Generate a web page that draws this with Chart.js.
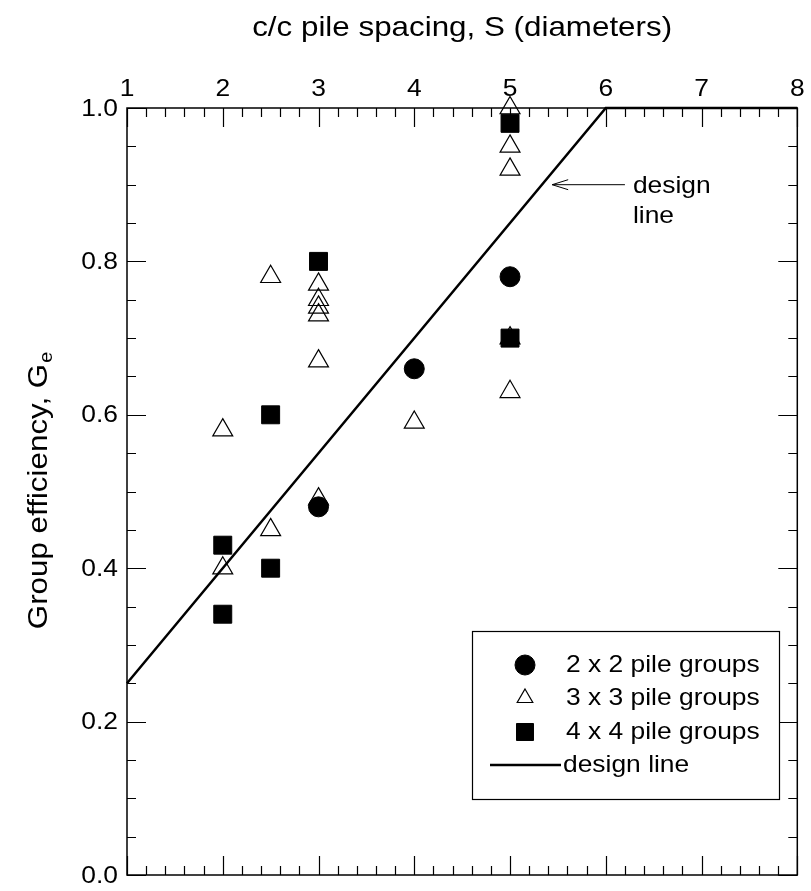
<!DOCTYPE html>
<html>
<head>
<meta charset="utf-8">
<script src="https://cdn.jsdelivr.net/npm/chart.js@4.4.1/dist/chart.umd.min.js"></script>
<style>
  html, body { margin: 0; padding: 0; background: #fff; }
  #wrap { width: 811px; height: 891px; }
</style>
</head>
<body>
<div id="wrap"><canvas id="chart" width="811" height="891"></canvas></div>
<script>
// axis ticks and labels
const xTickLabels = ['1', '2', '3', '4', '5', '6', '7', '8'];
const yTickLabels = ['0.0', '0.2', '0.4', '0.6', '0.8', '1.0'];

// measured group efficiencies
const pile2x2X = [3, 4, 5];
const pile2x2Y = [0.48, 0.66, 0.78];
const pile3x3X = [2, 2, 2.5, 2.5, 3, 3, 3, 3, 3, 3, 4, 5, 5, 5, 5, 5];
const pile3x3Y = [0.58, 0.40, 0.78, 0.45, 0.77, 0.75, 0.74, 0.73, 0.67, 0.49, 0.59, 1.00, 0.95, 0.92, 0.70, 0.63];
const pile4x4X = [2, 2, 2.5, 2.5, 3, 5, 5];
const pile4x4Y = [0.43, 0.34, 0.60, 0.40, 0.80, 0.98, 0.70];
const designX = [1, 6, 8];
const designY = [0.25, 1.0, 1.0];

const legendLabels = ['2 x 2 pile groups', '3 x 3 pile groups', '4 x 4 pile groups', 'design line'];

const FONT = '"Liberation Sans", Arial, sans-serif';
const SX = 1.1; // text in the reference is a bit wider than Arial

const pts = (xs, ys) => xs.map((x, i) => ({ x, y: ys[i] }));

function wideText(ctx, text, x, y, align) {
  ctx.save();
  ctx.translate(x, y);
  ctx.scale(SX, 1);
  ctx.textAlign = align || 'center';
  ctx.fillText(text, 0, 0);
  ctx.restore();
}

const circleStyle = { pointStyle: 'circle', radius: 10, borderWidth: 1, fill: '#000' };
const triStyle = { pointStyle: 'triangle', radius: 11.5, borderWidth: 1.2, fill: 'rgba(0,0,0,0)' };
const squareStyle = { pointStyle: 'rect', radius: 12.7, borderWidth: 1, fill: '#000' };

const frame = {
  id: 'frame',
  beforeDatasetsDraw(chart) {
    const { ctx, chartArea: a, scales: { x, y } } = chart;
    ctx.save();
    ctx.strokeStyle = '#000';
    ctx.lineWidth = 1.5;
    ctx.strokeRect(a.left, a.top, a.right - a.left, a.bottom - a.top);

    ctx.lineWidth = 1.2;
    ctx.beginPath();
    for (let v = 1; v <= 8.0001; v += 0.2) {
      const px = Math.round(x.getPixelForValue(v)) + 0.5;
      const major = Math.abs(v - Math.round(v)) < 1e-6;
      const len = major ? 19 : 9;
      ctx.moveTo(px, a.top); ctx.lineTo(px, a.top + len);
      ctx.moveTo(px, a.bottom); ctx.lineTo(px, a.bottom - len);
    }
    for (let k = 0; k <= 20; k++) {
      const py = Math.round(y.getPixelForValue(k * 0.05)) + 0.5;
      const len = k % 4 === 0 ? 19 : 9;
      ctx.moveTo(a.left, py); ctx.lineTo(a.left + len, py);
      ctx.moveTo(a.right, py); ctx.lineTo(a.right - len, py);
    }
    ctx.stroke();

    ctx.fillStyle = '#000';
    ctx.font = '24px ' + FONT;
    ctx.textBaseline = 'alphabetic';
    xTickLabels.forEach(t => {
      wideText(ctx, t, x.getPixelForValue(Number(t)), 96, 'center');
    });
    ctx.textBaseline = 'middle';
    yTickLabels.forEach(t => {
      wideText(ctx, t, a.left - 9, y.getPixelForValue(Number(t)) + 1, 'right');
    });

    // axis titles
    ctx.font = '28.5px ' + FONT;
    ctx.textBaseline = 'alphabetic';
    wideText(ctx, 'c/c pile spacing, S (diameters)', (a.left + a.right) / 2, 36, 'center');

    ctx.save();
    ctx.translate(47, 491);
    ctx.rotate(-Math.PI / 2);
    ctx.scale(SX, 1);
    const main = 'Group efficiency, G';
    ctx.font = '28.5px ' + FONT;
    const wMain = ctx.measureText(main).width;
    ctx.font = '18px ' + FONT;
    const wSub = ctx.measureText('e').width;
    const start = -(wMain + wSub) / 2;
    ctx.textAlign = 'left';
    ctx.font = '28.5px ' + FONT;
    ctx.fillText(main, start, 0);
    ctx.font = '18px ' + FONT;
    ctx.fillText('e', start + wMain + 1, 5);
    ctx.restore();
    ctx.restore();
  },
  afterDatasetsDraw(chart) {
    const { ctx, scales: { x, y } } = chart;
    ctx.save();
    // design line callout
    const tipX = x.getPixelForValue(5.44), tailX = x.getPixelForValue(6.2);
    const ay = y.getPixelForValue(0.9);
    ctx.strokeStyle = '#000';
    ctx.lineWidth = 1;
    ctx.beginPath();
    ctx.moveTo(tailX, ay); ctx.lineTo(tipX, ay);
    ctx.moveTo(tipX + 16, ay - 5); ctx.lineTo(tipX, ay); ctx.lineTo(tipX + 16, ay + 5);
    ctx.stroke();
    ctx.fillStyle = '#000';
    ctx.font = '24px ' + FONT;
    ctx.textBaseline = 'middle';
    wideText(ctx, 'design', tailX + 8, ay + 2, 'left');
    wideText(ctx, 'line', tailX + 8, ay + 32, 'left');

    // legend box
    const bx = 472, by = 631, bw = 307, bh = 168;
    ctx.fillStyle = '#fff';
    ctx.fillRect(bx, by, bw, bh);
    ctx.strokeStyle = '#000';
    ctx.lineWidth = 1.2;
    ctx.strokeRect(bx + 0.5, by + 0.5, bw, bh);
    const rows = [665, 698, 732, 765];
    const styles = [circleStyle, Object.assign({}, triStyle, { radius: 9 }), Object.assign({}, squareStyle, { radius: 12 })];
    styles.forEach((s, i) => {
      ctx.fillStyle = s.fill;
      ctx.strokeStyle = '#000';
      ctx.lineWidth = s.borderWidth;
      Chart.helpers.drawPoint(ctx, { pointStyle: s.pointStyle, radius: s.radius, rotation: 0, borderWidth: s.borderWidth }, 525, rows[i]);
    });
    ctx.lineWidth = 2.5;
    ctx.beginPath();
    ctx.moveTo(490, rows[3]); ctx.lineTo(561, rows[3]);
    ctx.stroke();
    ctx.fillStyle = '#000';
    ctx.font = '24px ' + FONT;
    ctx.textBaseline = 'middle';
    legendLabels.forEach((t, i) => wideText(ctx, t, i === 3 ? 563 : 566, rows[i], 'left'));
    ctx.restore();
  }
};

function markerSet(label, data, s, order) {
  return {
    label, data, order, clip: false,
    pointStyle: s.pointStyle, pointRadius: s.radius, pointHoverRadius: s.radius,
    pointBackgroundColor: s.fill, pointBorderColor: '#000', pointBorderWidth: s.borderWidth,
    showLine: false
  };
}

new Chart(document.getElementById('chart'), {
  type: 'scatter',
  data: {
    datasets: [
      markerSet(legendLabels[0], pts(pile2x2X, pile2x2Y), circleStyle, 0),
      markerSet(legendLabels[2], pts(pile4x4X, pile4x4Y), squareStyle, 1),
      markerSet(legendLabels[1], pts(pile3x3X, pile3x3Y), triStyle, 2),
      {
        label: legendLabels[3], data: pts(designX, designY), order: 3, clip: false,
        showLine: true, borderColor: '#000', borderWidth: 2.5, pointRadius: 0, pointHoverRadius: 0,
        tension: 0
      }
    ]
  },
  options: {
    responsive: false,
    animation: false,
    events: [],
    layout: { padding: { left: 127, right: 11, top: 108, bottom: 16 } },
    plugins: { legend: { display: false }, tooltip: { enabled: false } },
    scales: {
      x: { type: 'linear', min: 1, max: 8, display: false },
      y: { type: 'linear', min: 0, max: 1, display: false }
    }
  },
  plugins: [frame]
});
</script>
</body>
</html>
